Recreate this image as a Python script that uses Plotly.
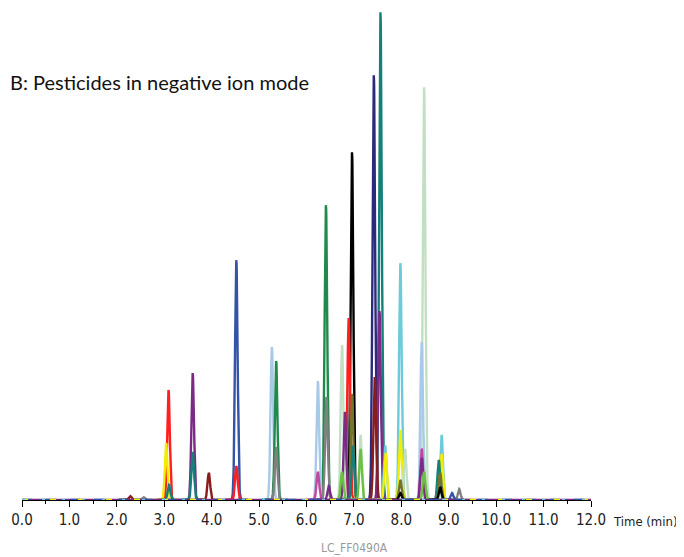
import numpy as np
import plotly.graph_objects as go

# Peak table (retention time in min, height in plot units, colour)
peak_times = [2.28, 2.56, 3.04, 3.09, 3.10, 3.60, 3.60, 3.94, 4.52, 4.52,
              5.27, 5.36, 5.36, 6.24, 6.24, 6.42, 6.41, 6.47, 6.75, 6.75,
              6.81, 6.89, 6.96, 6.96, 6.98, 7.14, 7.14, 7.42, 7.44, 7.56,
              7.54, 7.66, 7.67, 7.98, 7.98, 7.98, 7.98, 8.08, 8.43, 8.48,
              8.43, 8.43, 8.48, 8.79, 8.85, 8.85, 8.82, 8.82, 9.07, 9.22]
peak_heights = [4, 3, 57, 110, 15, 127, 48, 27, 240, 34,
                153, 139, 53, 119, 28, 103, 295, 14, 155, 28,
                88, 182, 348, 106, 54, 65, 51, 425, 123, 488,
                189, 54, 47, 237, 70, 20, 7, 51, 158, 413,
                51, 42, 28, 40, 65, 46, 27, 13, 7, 11]
peak_colors = ["darkred", "gray", "yellow", "red", "teal", "purple", "teal", "darkred", "blue", "red",
               "lightblue", "darkgreen", "gray", "lightblue", "magenta", "gray", "darkgreen", "purple", "palegreen", "lime",
               "purple", "red", "black", "olive", "teal", "palegreen", "lime", "navy", "darkred", "teal",
               "purple", "cyan", "yellow", "cyan", "yellow", "olive", "black", "palegreen", "lightblue", "palegreen",
               "magenta", "purple", "lime", "teal", "cyan", "yellow", "olive", "black", "blue", "gray"]
peak_width = 0.028  # min (gaussian sigma)

# Colours whose baselines show on top, with their line style
baseline_colors = ["purple", "blue", "yellow", "cyan"]
baseline_dashes = ["solid", "10px,14px", "6px,22px", "3px,17px"]

palette = {
    "darkred": "#8b1c1c", "gray": "#808080", "yellow": "#f2ee00", "red": "#ff1f1f",
    "teal": "#15807a", "purple": "#7b2a86", "blue": "#3553a6", "lightblue": "#a9c9e8",
    "darkgreen": "#1f8a4c", "magenta": "#c0489e", "palegreen": "#c3dfc3", "lime": "#6cc044",
    "black": "#000000", "olive": "#76732a", "navy": "#2b2a7c", "cyan": "#6ccbdb",
}

tick_vals = [0, 1, 2, 3, 4, 5, 6, 7, 8, 9, 10, 11, 12]
tick_text = ["0.0", "1.0", "2.0", "3.0", "4.0", "5.0", "6.0", "7.0", "8.0", "9.0", "10.0", "11.0", "12.0"]
x_range = [0, 12]

fig = go.Figure()
order = sorted(range(len(peak_times)), key=lambda i: -peak_heights[i])
for i in order:
    t, h = peak_times[i], peak_heights[i]
    xs = np.arange(t - 0.25, t + 0.25, 0.003)
    ys = h * np.exp(-0.5 * ((xs - t) / peak_width) ** 2)
    fig.add_trace(go.Scatter(x=xs, y=ys, mode="lines",
                             line=dict(color=palette[peak_colors[i]], width=2.4),
                             hoverinfo="skip", showlegend=False))

# Baseline segments of the traces (flat parts of the chromatograms)
for c, d in zip(baseline_colors, baseline_dashes):
    fig.add_trace(go.Scatter(x=x_range, y=[0, 0], mode="lines",
                             line=dict(color=palette[c], width=2.4, dash=d),
                             hoverinfo="skip", showlegend=False))

fig.update_layout(
    width=676, height=549,
    margin=dict(l=14, r=93, t=2, b=57),
    paper_bgcolor="white", plot_bgcolor="white",
    xaxis=dict(range=x_range, tickvals=tick_vals, ticktext=tick_text,
               showline=True, linecolor="black", linewidth=1,
               ticks="outside", ticklen=6, tickcolor="black", tickwidth=1,
               minor=dict(dtick=0.5, ticks="outside", ticklen=3, tickcolor="black"),
               showgrid=False, zeroline=False,
               tickfont=dict(family="Liberation Sans Narrow, DejaVu Sans Condensed, sans-serif",
                             size=15, color="#222")),
    yaxis=dict(range=[0, 490], visible=False),
    annotations=[
        dict(text="B: Pesticides in negative ion mode", xref="paper", yref="paper",
             x=-0.025, y=0.853, xanchor="left", yanchor="middle", showarrow=False,
             font=dict(family="Lato, Noto Sans, sans-serif", size=20, color="#111")),
        dict(text="Time (min)", xref="paper", yref="paper",
             x=1.035, y=-0.043, xanchor="left", yanchor="middle", showarrow=False,
             font=dict(family="Liberation Sans Narrow, DejaVu Sans Condensed, sans-serif",
                       size=13, color="#222")),
        dict(text="LC_FF0490A", xref="paper", yref="paper",
             x=0.585, y=-0.098, xanchor="center", yanchor="middle", showarrow=False,
             font=dict(family="Liberation Sans Narrow, DejaVu Sans Condensed, sans-serif",
                       size=12, color="#999")),
    ],
)

fig.write_html("out.html")
